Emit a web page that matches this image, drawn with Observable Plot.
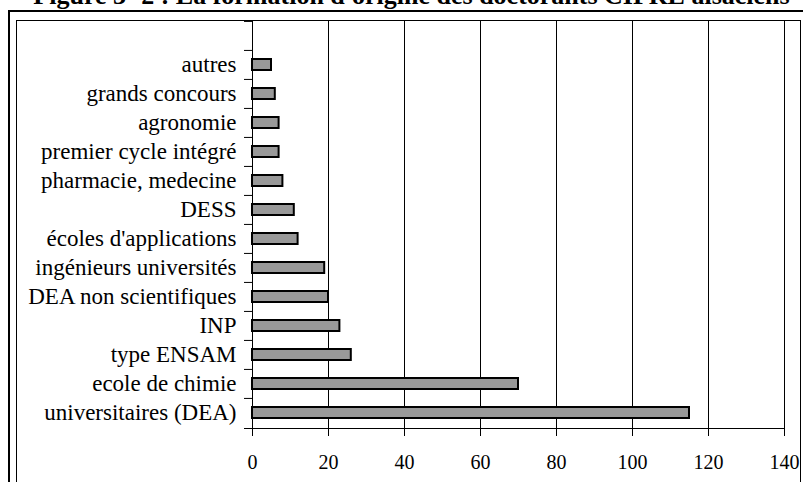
<!DOCTYPE html>
<html><head><meta charset="utf-8">
<script src="https://cdn.jsdelivr.net/npm/d3@7"></script>
<script src="https://cdn.jsdelivr.net/npm/@observablehq/plot@0.6"></script>
<style>
html,body{margin:0;padding:0;background:#fff;overflow:hidden;width:803px;height:482px}
#wrap{position:relative;width:803px;height:482px;overflow:hidden;background:#fff}
#title{position:absolute;left:0;width:823px;text-align:center;top:-17px;font:bold 26px/26px "Liberation Serif","Times New Roman",serif;white-space:nowrap;color:#000}
#outer{position:absolute;left:8px;top:10px;width:900px;height:600px;border:2.5px solid #000;box-sizing:border-box}
#inner{position:absolute;left:16px;top:19.5px;width:785px;height:600px;border:1px solid #000;box-sizing:border-box}
#chart{position:absolute;left:0;top:0}
</style></head><body>
<div id="wrap">
  <div id="title">Figure 3- 2 : La formation d'origine des doctorants CIFRE alsaciens</div>
  <div id="outer"></div>
  <div id="inner"></div>
  <div id="chart"></div>
</div>
<script>
const categories = ["autres","grands concours","agronomie","premier cycle intégré","pharmacie, medecine","DESS","écoles d'applications","ingénieurs universités","DEA non scientifiques","INP","type ENSAM","ecole de chimie","universitaires (DEA)"];
const values = [5,6,7,7,8,11,12,19,20,23,26,70,115];
const xTicks = [0,20,40,60,80,100,120,140];

const data = categories.map((c, i) => ({cat: c, value: values[i]}));
const W = 803, H = 482, mT = 20, mB = 54, mL = 252, mR = 19;
const step = (H - mT - mB) / (categories.length + 1);

const chart = Plot.plot({
  width: W, height: H,
  marginLeft: mL, marginRight: mR, marginTop: mT, marginBottom: mB,
  style: {fontFamily: "'Liberation Serif','Times New Roman',serif", background: "transparent", color: "#000"},
  x: {domain: [0, 140]},
  y: {domain: ["", ...categories], paddingInner: 0.62, paddingOuter: 0.31},
  marks: [
    Plot.gridX(xTicks.slice(1), {stroke: "#000", strokeOpacity: 1}),
    Plot.barX(data, {x: "value", y: "cat", fill: "#999999", stroke: "#000", strokeWidth: 2}),
    Plot.ruleX([0], {stroke: "#000"}),
    Plot.frame({anchor: "bottom", insetLeft: -8, stroke: "#000"}),
    Plot.axisX({ticks: xTicks, tickSize: 8, tickPadding: 18, fontSize: 20, label: null, stroke: "#000"}),
    Plot.axisY({tickSize: 8, text: null, dy: -step / 2, label: null, stroke: "#000"}),
    Plot.axisY({tickSize: 0, tickPadding: 16, fontSize: 23, label: null})
  ]
});
document.getElementById("chart").appendChild(chart);
</script>
</body></html>
